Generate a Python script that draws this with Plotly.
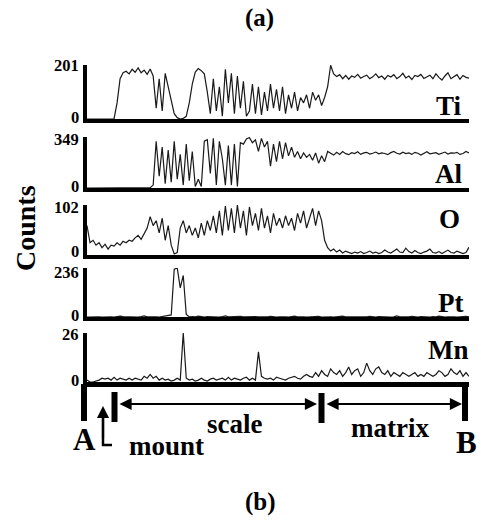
import plotly.graph_objects as go

W, H = 481, 522

# ---- data (counts along the line scan A -> B) ----
elements = ["Ti", "Al", "O", "Pt", "Mn"]
y_max = [201, 349, 102, 236, 26]

ti = [0,0,0,0,0,0,0,0,0,1,
      60,150,172,178,168,185,174,190,172,182,166,186,160,
      40,150,30,170,120,60,20,5,0,2,10,60,130,175,188,180,168,
      100,20,150,30,120,10,185,60,170,20,160,40,140,10,30,130,20,120,15,100,
      30,130,40,110,30,120,20,90,40,100,30,80,60,90,40,100,70,90,50,80,
      120,200,168,158,165,150,162,148,160,155,166,152,158,163,150,157,168,154,160,148,
      162,156,165,150,158,170,153,160,147,162,158,166,151,157,163,150,168,155,145,160,
      172,150,158,165,148,162,155,152]

al = [0,0,0,0,0,0,0,0,0,0,3,0,0,0,0,0,0,0,0,0,5,2,
      20,320,80,280,30,260,40,320,60,230,20,300,50,250,10,60,10,
      320,330,100,340,20,320,200,20,290,20,300,10,310,
      300,335,345,310,330,250,340,280,320,150,300,180,320,200,310,
      220,280,210,250,200,240,210,230,190,240,170,220,180,250,240,
      225,245,230,250,235,228,242,236,248,230,240,244,232,238,246,234,240,236,228,242,
      250,238,232,245,236,240,230,244,238,226,240,248,234,238,242,230,236,246,232,240,
      238,244,230,236,250,240]

ox = [60,25,30,20,25,15,22,12,20,18,25,20,28,25,30,28,35,40,32,45,55,
      78,60,70,45,75,30,60,20,2,5,55,70,45,60,40,55,35,65,40,70,50,
      80,45,90,40,100,50,95,45,102,55,90,40,98,60,85,50,95,55,80,45,
      85,60,75,55,80,60,75,50,85,65,90,55,75,95,60,90,70,30,15,8,
      12,6,10,4,8,5,3,6,4,7,3,5,8,4,6,3,5,10,6,4,8,12,6,5,14,7,4,9,5,3,
      6,8,12,5,4,7,3,6,10,5,4,8,6,3,5,16]

pt = [0,1,0,2,1,0,1,3,1,0,2,4,2,1,3,2,1,0,2,5,1,2,3,1,0,2,3,6,
      10,230,236,140,200,12,1,
      2,1,4,1,0,2,1,3,1,0,2,5,1,2,0,1,3,1,2,0,1,2,1,0,2,1,3,1,0,1,
      2,1,0,2,4,1,2,1,0,1,2,1,3,0,1,2,1,0,2,1,4,1,0,2,1,1,0,2,1,3,
      1,0,2,1,1,2,0,1,5,1,0,2,1,3,1,0,2,1,1,0,2,1,4,1,0,1,2,1,0,2,1,3,1]

mn = [1,0,0,0.5,1,2,1.5,2,1,2.5,1,2,1.5,1,2,1,2,1.5,1,3,2,4,2,3,1,2,1,1.5,0.5,1,2,1,
      26,
      2,1,1.5,0.5,1,2,1,0.5,1.5,2,1,1.5,2,1,2.5,1,2,1.5,1,2,2.5,1,2,1,
      16,
      3,2,1.5,2,1,2.5,2,1.5,1,2,2.5,3,2,1.5,3,4,3,2.5,5,3,6,4,3,7,5,4,6,3,5,8,
      4,6,7,3,5,10,6,4,7,8,5,4,6,3,5,4,3,5,4,3,4,5,3,4,3,5,4,3,4,6,5,3,4,7,5,4,6,3,5,3]

series = [ti, al, ox, pt, mn]
positions = list(range(len(ti)))

# ---- layout helpers (pixel -> paper) ----
def px(x):
    return x / W

def py(y):
    return 1 - y / H

SERIF = "Liberation Serif"

# panel geometry in pixels: (top tick y, domain bottom y, bottom line width)
panels = [(65, 119, 4), (137, 188, 4), (205, 255, 4), (268, 317, 4), (333, 382, 5)]
label_pos = [(464, 106), (464, 174), (462, 219), (465, 303), (471, 350)]
# pixel y of the max / zero tick labels
max_label_y = [66, 139, 207, 272, 334]
zero_label_y = [117, 186, 251, 315, 380]

fig = go.Figure()
layout = dict(
    width=W, height=H, autosize=False,
    margin=dict(l=0, r=0, t=0, b=0),
    paper_bgcolor="white", plot_bgcolor="white",
    showlegend=False,
)

annotations = []

def tick_ann(t, y):
    return dict(x=px(81), y=py(y), xref="paper", yref="paper",
                text="<b>%s</b>" % t, showarrow=False,
                xanchor="right", yanchor="middle",
                font=dict(family=SERIF, size=16.5, color="black"))

for k, (name, vals, ymx, (top, bot, lw)) in enumerate(zip(elements, series, y_max, panels)):
    idx = "" if k == 0 else str(k + 1)
    fig.add_trace(go.Scatter(
        x=positions, y=vals, mode="lines",
        line=dict(color="#1a1a1a", width=1.2),
        xaxis="x" + idx, yaxis="y" + idx,
        hoverinfo="skip", cliponaxis=False,
    ))
    layout["xaxis" + idx] = dict(
        domain=[px(87), px(469)], range=[0, len(vals) - 1], anchor="y" + idx,
        showline=True, linewidth=lw, linecolor="black",
        showticklabels=False, ticks="", showgrid=False, zeroline=False,
    )
    layout["yaxis" + idx] = dict(
        domain=[py(bot), py(top)], range=[0, ymx], anchor="x" + idx,
        showline=True, linewidth=4, linecolor="black",
        ticks="inside", ticklen=18, tickwidth=4, tickcolor="black",
        tickvals=[0, ymx], showticklabels=False,
        showgrid=False, zeroline=False,
    )
    annotations.append(tick_ann(str(ymx), max_label_y[k]))
    annotations.append(tick_ann("0", zero_label_y[k]))
    lx, ly = label_pos[k]
    annotations.append(dict(
        x=px(lx), y=py(ly), xref="paper", yref="paper",
        text="<b>%s</b>" % name, showarrow=False,
        xanchor="right", yanchor="middle",
        font=dict(family=SERIF, size=27, color="black"),
    ))

def text_ann(t, x, y, size, angle=0):
    return dict(x=px(x), y=py(y), xref="paper", yref="paper",
                text="<b>%s</b>" % t, showarrow=False, textangle=angle,
                xanchor="center", yanchor="middle",
                font=dict(family=SERIF, size=size, color="black"))

annotations += [
    text_ann("(a)", 259, 18, 25),
    text_ann("(b)", 260, 502, 25),
    text_ann("Counts", 25, 228, 28, angle=-90),
    text_ann("A", 84, 439, 31),
    text_ann("B", 466, 442, 31),
    text_ann("scale", 234, 424, 27),
    text_ann("matrix", 390, 428, 27),
    text_ann("mount", 166, 446, 27),
]

def arrow(x0, y0, x1, y1, both=False):
    # tip at (x1, y1), tail at (x0, y0)
    return dict(x=px(x1), y=py(y1), xref="paper", yref="paper",
                ax=x0 - x1, ay=y0 - y1, axref="pixel", ayref="pixel",
                text="", showarrow=True, arrowhead=2, arrowsize=1.1,
                arrowwidth=2.2, arrowcolor="black",
                arrowside="end+start" if both else "end")

annotations += [
    arrow(118, 404, 317, 404, both=True),
    arrow(325, 404, 462, 404, both=True),
    arrow(103, 440, 103, 406),
]

def seg(x0, y0, x1, y1, w):
    return dict(type="line", xref="paper", yref="paper",
                x0=px(x0), y0=py(y0), x1=px(x1), y1=py(y1),
                line=dict(color="black", width=w))

shapes = [
    seg(84, 384, 84, 421, 6),
    seg(465, 384, 465, 421, 6),
    seg(114.5, 392, 114.5, 422, 6),
    seg(321.5, 393, 321.5, 423, 6),
    seg(103, 446, 103, 412, 2.5),
    seg(102, 445, 112, 445, 2.5),
]

layout["annotations"] = annotations
layout["shapes"] = shapes
fig.update_layout(**layout)
fig.write_html("out.html")
